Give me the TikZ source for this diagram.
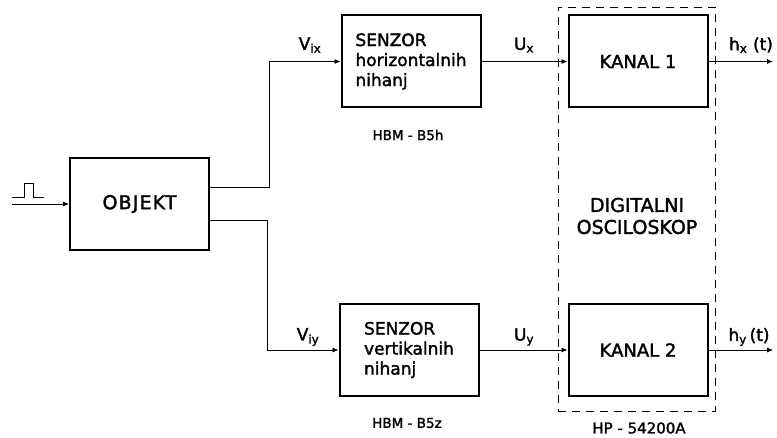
\documentclass[tikz,border=0pt]{standalone}
\usepackage{fontspec}
\setmainfont{DejaVu Sans}[FakeBold=1.8]
\usetikzlibrary{arrows.meta,positioning,calc}

\begin{document}
\begin{tikzpicture}[x=1pt,y=1pt,
  box/.style={draw,line width=2pt,minimum width=139pt,minimum height=92pt,
              align=left,font=\fontsize{17}{20}\selectfont},
  sig/.style={-{Latex[length=6pt,width=5pt]},line width=0.8pt},
  lbl/.style={font=\fontsize{17}{20}\selectfont},
  typ/.style={font=\fontsize{13.5}{16}\selectfont}]
  \useasboundingbox (0,0) rectangle (777,437);
  % object and sensors
  \node[box,font=\fontsize{19}{24}\selectfont\addfontfeature{LetterSpace=6}]
        (OB) at (139.5,233) {OBJEKT};
  \node[box] (S1) at (411,375.5) {SENZOR\\horizontalnih\\nihanj};
  \node[box] (S2) at (409,87) {SENZOR\\vertikalnih\\nihanj};
  \node[typ] (t1) at (408,302) {HBM - B5h};
  \node[typ] (t2) at (407,14) {HBM - B5z};
  % oscilloscope
  \node[draw,dashed,dash pattern=on 8pt off 6pt,line width=0.8pt,
        minimum width=157pt,minimum height=404pt] (DO) at (636.5,228) {};
  \node[box,font=\fontsize{18}{22}\selectfont] (K1) at (638,375.5) {KANAL 1};
  \node[box,font=\fontsize{18}{22}\selectfont] (K2) at (638,87) {KANAL 2};
  \node[align=center,font=\fontsize{19}{22}\selectfont] (DT) at (637,221)
        {DIGITALNI\\OSCILOSKOP};
  \node[font=\fontsize{15}{18}\selectfont] (t3) at (639,9) {HP - 54200A};
  % signals
  \coordinate (in) at (12,233);
  \coordinate (o1) at (773,375.5);
  \coordinate (o2) at (773,87);
  \draw[line width=0.8pt] (12,240) -- (24,240) -- (24,254) -- (33,254)
        -- (33,240) -- (44,240);
  \draw[sig] (in) -- (OB.west);
  \draw[sig] ([yshift=16.5pt]OB.east) -| ([xshift=-71pt]S1.west) -- (S1.west);
  \draw[sig] ([yshift=-16.5pt]OB.east) -| ([xshift=-71pt]S2.west) -- (S2.west);
  \draw[sig] (S1.east) -- (K1.west);
  \draw[sig] (S2.east) -- (K2.west);
  \draw[sig] (K1.east) -- (o1);
  \draw[sig] (K2.east) -- (o2);
  % labels
  \node[lbl] (vix) at (310,392) {V\textsubscript{ix}};
  \node[lbl] (viy) at (308,100) {V\textsubscript{iy}};
  \node[lbl] (ux) at (524,392) {U\textsubscript{x}};
  \node[lbl] (uy) at (524,100) {U\textsubscript{y}};
  \node[lbl] (hx) at (751,392) {h\textsubscript{x}\,\,(t)};
  \node[lbl] (hy) at (749,100) {h\textsubscript{y}\,(t)};
\end{tikzpicture}
\end{document}
